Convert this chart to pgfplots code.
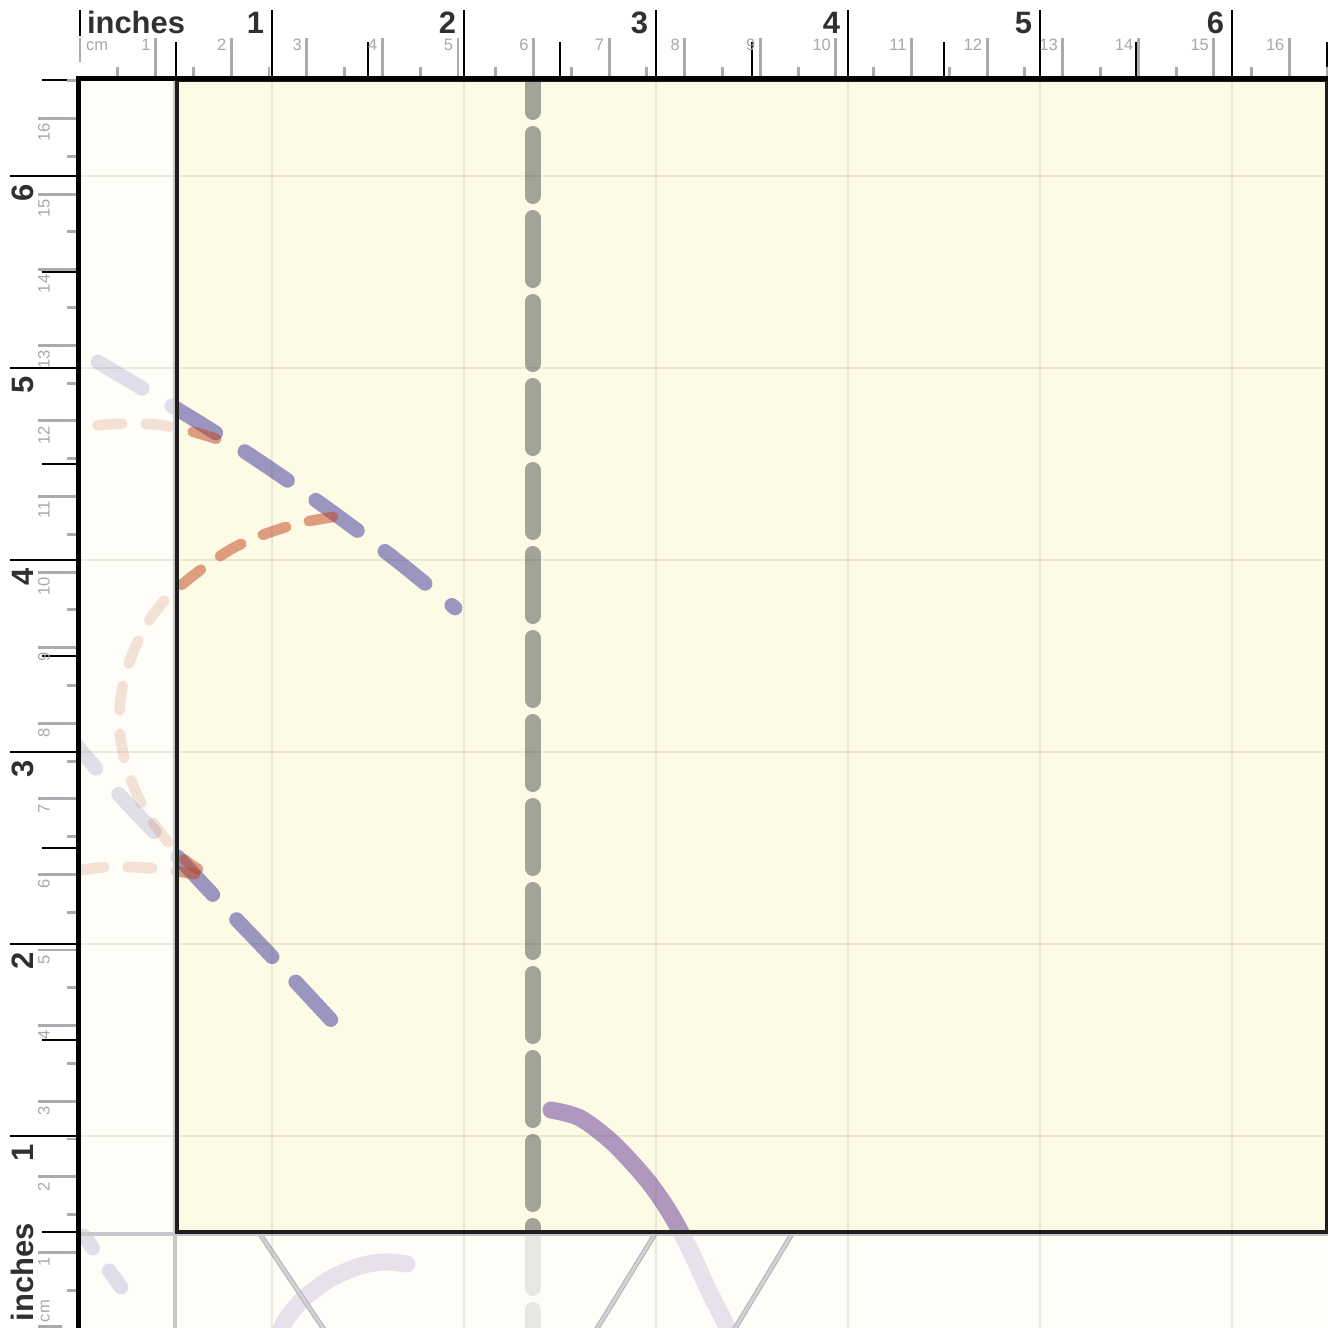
\documentclass[border=0pt]{standalone}
\usepackage{pgfplots}
\pgfplotsset{compat=1.18}
\usepackage{fontspec}
\setmainfont{Liberation Sans}
\definecolor{purpD}{RGB}{57,52,154}
\definecolor{oranD}{RGB}{193,66,26}
\definecolor{grayD}{RGB}{73,80,80}
\definecolor{purpS}{RGB}{99,54,150}
\definecolor{cream}{RGB}{254,253,248}
\definecolor{yel}{RGB}{253,250,230}
\definecolor{spineC}{RGB}{30,30,30}
\definecolor{fspine}{RGB}{200,200,203}
\definecolor{thinE}{RGB}{178,178,182}
\definecolor{thinI}{RGB}{210,210,212}
\definecolor{tickG}{RGB}{170,170,176}
\definecolor{labC}{RGB}{48,48,48}
\definecolor{cmC}{RGB}{168,168,168}
\definecolor{gridC}{RGB}{90,85,40}
\tikzset{
  lab/.style={inner sep=0pt, outer sep=0pt, font=\bfseries\fontsize{11.6}{12}\selectfont, text=labC},
  cml/.style={inner sep=0pt, outer sep=0pt, font=\fontsize{6.2}{7}\selectfont, text=cmC},
  pdash/.style={draw=purpD, line width=5.5pt, line cap=round, dash pattern=on 19.3pt off 12.95pt},
  odash/.style={draw=oranD, line width=4pt, line cap=round, dash pattern=on 9.2pt off 8.8pt},
  gdash/.style={draw=grayD, line width=6pt, line cap=round, dash pattern=on 23.25pt off 8.25pt, dash phase=12.375pt},
  psol/.style={draw=purpS, line width=6.4pt, line cap=round},
}
\pgfplotsset{
  pxaxis/.style={scale only axis, y dir=reverse, axis on top,
    axis line style={draw=none}, major tick length=0pt, tick style={draw=none},
    xticklabels={}, yticklabels={}, tick label style={text opacity=0},
    grid=major, grid style={draw=gridC, draw opacity=0.11, line width=0.7pt},
    xtick={272,464,656,848,1040,1232}, ytick={176,368,560,752,944,1136}},
}
\begin{document}
\begin{tikzpicture}
% ---------- faded outer region ----------
\begin{axis}[pxaxis, at={(30pt,0pt)}, anchor=south west, width=468pt, height=468pt,
  xmin=80, xmax=1328, ymin=80, ymax=1328,
  axis background/.style={fill=cream}, clip=true]
\addplot[pdash, draw opacity=0.15, smooth] coordinates {(98,362) (150,393) (200,423) (250,455) (300,489) (350,525) (400,563) (455,608)};
\addplot[pdash, draw opacity=0.15, smooth, dash phase=5.4pt] coordinates {(72,740) (113,788) (160,838) (217,899) (278,963) (333,1022)};
\addplot[pdash, draw opacity=0.15, dash pattern=on 5.6pt off 10.5pt on 19.5pt off 12.75pt] coordinates {(84,1236) (121,1287)};
\addplot[gdash, draw opacity=0.12] coordinates {(532.5,83) (532.5,1345)};
\addplot[psol, draw opacity=0.14, smooth] coordinates {(551,1110) (580,1118) (613,1143) (647,1180) (670,1213) (690,1250) (707,1287) (725,1323) (731,1340)};
\addplot[psol, draw opacity=0.14, smooth] coordinates {(407,1264) (385,1262) (360,1266) (330,1279) (303,1299) (285,1321) (278,1340)};
\addplot[odash, draw opacity=0.15, smooth, dash phase=7.5pt] coordinates {(70,430) (100,425) (130,423.5) (160,425) (190,431) (217,439)};
\addplot[odash, draw opacity=0.15, smooth] coordinates {(333,517) (300,523) (265,534) (235,547) (210,563) (185,582) (165,600) (148,622) (135,648) (125,675) (120,705) (120,735) (126,765) (136,792) (150,818) (168,842) (185,860) (198,869)};
\addplot[odash, draw opacity=0.15, smooth, dash phase=14.25pt] coordinates {(70,872) (100,867.5) (130,867) (160,869) (195,874)};
% thin faded lines below the axes
\addplot[draw=thinE, line width=0.375pt, double=thinI, double distance=1.1pt] coordinates {(260,1234) (331,1340)};
\addplot[draw=thinE, line width=0.375pt, double=thinI, double distance=1.1pt] coordinates {(655,1234) (590,1340)};
\addplot[draw=thinE, line width=0.375pt, double=thinI, double distance=1.1pt] coordinates {(792,1234) (728,1340)};
% faded spines
\addplot[draw=fspine, line width=1.5pt] coordinates {(175,80) (175,1328)};
\addplot[draw=fspine, line width=1.5pt] coordinates {(80,1234) (1328,1234)};
\end{axis}
% ---------- inner axes ----------
\begin{axis}[pxaxis, at={(66.375pt,36pt)}, anchor=south west, width=431.25pt, height=432pt,
  xmin=177, xmax=1327, ymin=80, ymax=1232,
  axis background/.style={fill=yel}, clip=true,
  axis line style={draw=spineC, line width=1.3pt}]
\addplot[pdash, draw opacity=0.5, smooth] coordinates {(98,362) (150,393) (200,423) (250,455) (300,489) (350,525) (400,563) (455,608)};
\addplot[pdash, draw opacity=0.5, smooth, dash phase=5.4pt] coordinates {(72,740) (113,788) (160,838) (217,899) (278,963) (333,1022)};
\addplot[gdash, draw opacity=0.5] coordinates {(532.5,83) (532.5,1345)};
\addplot[psol, draw opacity=0.5, smooth] coordinates {(551,1110) (580,1118) (613,1143) (647,1180) (670,1213) (690,1250) (707,1287) (725,1323) (731,1340)};
\addplot[odash, draw opacity=0.5, smooth, dash phase=7.5pt] coordinates {(70,430) (100,425) (130,423.5) (160,425) (190,431) (217,439)};
\addplot[odash, draw opacity=0.5, smooth] coordinates {(333,517) (300,523) (265,534) (235,547) (210,563) (185,582) (165,600) (148,622) (135,648) (125,675) (120,705) (120,735) (126,765) (136,792) (150,818) (168,842) (185,860) (198,869)};
\addplot[odash, draw opacity=0.5, smooth, dash phase=14.25pt] coordinates {(70,872) (100,867.5) (130,867) (160,869) (195,874)};
\end{axis}
% ---------- rulers ----------
\begin{axis}[at={(0pt,0pt)}, anchor=south west, scale only axis, width=498pt, height=498pt,
  xmin=0, xmax=1328, ymin=0, ymax=1328, y dir=reverse, hide axis, clip=false,
  unbounded coords=jump]
% black inch ticks (top)
\addplot[draw=black, line width=0.9pt] coordinates {(80,10) (80,36) (80,nan) (272,10) (272,78) (272,nan) (464,10) (464,78) (464,nan) (656,10) (656,78) (656,nan) (848,10) (848,78) (848,nan) (1040,10) (1040,78) (1040,nan) (1232,10) (1232,78)};
\addplot[draw=black, line width=0.9pt] coordinates {(176,42) (176,78) (176,nan) (368,42) (368,78) (368,nan) (560,42) (560,78) (560,nan) (752,42) (752,78) (752,nan) (944,42) (944,78) (944,nan) (1136,42) (1136,78) (1136,nan) (1327.5,42) (1327.5,78)};
% black inch ticks (left)
\addplot[draw=black, line width=0.9pt] coordinates {(10,1136) (78,1136) (nan,1136) (10,944) (78,944) (nan,944) (10,752) (78,752) (nan,752) (10,560) (78,560) (nan,560) (10,368) (78,368) (nan,368) (10,176) (78,176)};
\addplot[draw=black, line width=0.9pt] coordinates {(42,1232) (78,1232) (nan,1232) (42,1040) (78,1040) (nan,1040) (42,848) (78,848) (nan,848) (42,656) (78,656) (nan,656) (42,464) (78,464) (nan,464) (42,272) (78,272) (nan,272) (42,80) (78,80)};
% gray cm ticks (top)
\addplot[draw=tickG, line width=1.1pt] coordinates {(80,38) (80,62) (80,nan) (155.6,38) (155.6,77) (155.6,nan) (231.2,38) (231.2,77) (231.2,nan) (306.8,38) (306.8,77) (306.8,nan) (382.4,38) (382.4,77) (382.4,nan) (458.0,38) (458.0,77) (458.0,nan) (533.5,38) (533.5,77) (533.5,nan) (609.1,38) (609.1,77) (609.1,nan) (684.7,38) (684.7,77) (684.7,nan) (760.3,38) (760.3,77) (760.3,nan) (835.9,38) (835.9,77) (835.9,nan) (911.5,38) (911.5,77) (911.5,nan) (987.1,38) (987.1,77) (987.1,nan) (1062.7,38) (1062.7,77) (1062.7,nan) (1138.3,38) (1138.3,77) (1138.3,nan) (1213.9,38) (1213.9,77) (1213.9,nan) (1289.4,38) (1289.4,77)};
\addplot[draw=tickG, line width=1.1pt] coordinates {(117.8,67) (117.8,77) (117.8,nan) (193.4,67) (193.4,77) (193.4,nan) (269.0,67) (269.0,77) (269.0,nan) (344.6,67) (344.6,77) (344.6,nan) (420.2,67) (420.2,77) (420.2,nan) (495.8,67) (495.8,77) (495.8,nan) (571.3,67) (571.3,77) (571.3,nan) (646.9,67) (646.9,77) (646.9,nan) (722.5,67) (722.5,77) (722.5,nan) (798.1,67) (798.1,77) (798.1,nan) (873.7,67) (873.7,77) (873.7,nan) (949.3,67) (949.3,77) (949.3,nan) (1024.9,67) (1024.9,77) (1024.9,nan) (1100.5,67) (1100.5,77) (1100.5,nan) (1176.1,67) (1176.1,77) (1176.1,nan) (1251.7,67) (1251.7,77) (1251.7,nan) (1327.2,67) (1327.2,77)};
% gray cm ticks (left)
\addplot[draw=tickG, line width=1.1pt] coordinates {(38,1326.5) (62,1326.5) (nan,1326.5) (38,1252.4) (77,1252.4) (nan,1252.4) (38,1176.8) (77,1176.8) (nan,1176.8) (38,1101.2) (77,1101.2) (nan,1101.2) (38,1025.6) (77,1025.6) (nan,1025.6) (38,950.0) (77,950.0) (nan,950.0) (38,874.5) (77,874.5) (nan,874.5) (38,798.9) (77,798.9) (nan,798.9) (38,723.3) (77,723.3) (nan,723.3) (38,647.7) (77,647.7) (nan,647.7) (38,572.1) (77,572.1) (nan,572.1) (38,496.5) (77,496.5) (nan,496.5) (38,420.9) (77,420.9) (nan,420.9) (38,345.3) (77,345.3) (nan,345.3) (38,269.7) (77,269.7) (nan,269.7) (38,194.1) (77,194.1) (nan,194.1) (38,118.6) (77,118.6)};
\addplot[draw=tickG, line width=1.1pt] coordinates {(67,1290.2) (77,1290.2) (nan,1290.2) (67,1214.6) (77,1214.6) (nan,1214.6) (67,1139.0) (77,1139.0) (nan,1139.0) (67,1063.4) (77,1063.4) (nan,1063.4) (67,987.8) (77,987.8) (nan,987.8) (67,912.2) (77,912.2) (nan,912.2) (67,836.7) (77,836.7) (nan,836.7) (67,761.1) (77,761.1) (nan,761.1) (67,685.5) (77,685.5) (nan,685.5) (67,609.9) (77,609.9) (nan,609.9) (67,534.3) (77,534.3) (nan,534.3) (67,458.7) (77,458.7) (nan,458.7) (67,383.1) (77,383.1) (nan,383.1) (67,307.5) (77,307.5) (nan,307.5) (67,231.9) (77,231.9) (nan,231.9) (67,156.3) (77,156.3) (nan,156.3) (67,80.8) (77,80.8)};
% ruler base lines
\addplot[draw=black, line width=1.875pt] coordinates {(76,78.5) (1328,78.5)};
\addplot[draw=black, line width=1.875pt] coordinates {(78.5,76) (78.5,1328)};
% top labels
\node[lab, anchor=base west] at (axis cs:87,33) {inches};
\node[lab, anchor=base east] at (axis cs:264,33) {1};
\node[lab, anchor=base east] at (axis cs:456,33) {2};
\node[lab, anchor=base east] at (axis cs:648,33) {3};
\node[lab, anchor=base east] at (axis cs:840,33) {4};
\node[lab, anchor=base east] at (axis cs:1032,33) {5};
\node[lab, anchor=base east] at (axis cs:1224,33) {6};
\node[cml, anchor=base west] at (axis cs:86,50) {cm};
\node[cml, anchor=base east] at (axis cs:150.6,50) {1};
\node[cml, anchor=base east] at (axis cs:226.2,50) {2};
\node[cml, anchor=base east] at (axis cs:301.8,50) {3};
\node[cml, anchor=base east] at (axis cs:377.4,50) {4};
\node[cml, anchor=base east] at (axis cs:453.0,50) {5};
\node[cml, anchor=base east] at (axis cs:528.5,50) {6};
\node[cml, anchor=base east] at (axis cs:604.1,50) {7};
\node[cml, anchor=base east] at (axis cs:679.7,50) {8};
\node[cml, anchor=base east] at (axis cs:755.3,50) {9};
\node[cml, anchor=base east] at (axis cs:830.9,50) {10};
\node[cml, anchor=base east] at (axis cs:906.5,50) {11};
\node[cml, anchor=base east] at (axis cs:982.1,50) {12};
\node[cml, anchor=base east] at (axis cs:1057.7,50) {13};
\node[cml, anchor=base east] at (axis cs:1133.3,50) {14};
\node[cml, anchor=base east] at (axis cs:1208.9,50) {15};
\node[cml, anchor=base east] at (axis cs:1284.4,50) {16};
% left labels
\node[lab, anchor=base west, rotate=90] at (axis cs:33,1321) {inches};
\node[lab, anchor=base east, rotate=90] at (axis cs:33,1144) {1};
\node[lab, anchor=base east, rotate=90] at (axis cs:33,952) {2};
\node[lab, anchor=base east, rotate=90] at (axis cs:33,760) {3};
\node[lab, anchor=base east, rotate=90] at (axis cs:33,568) {4};
\node[lab, anchor=base east, rotate=90] at (axis cs:33,376) {5};
\node[lab, anchor=base east, rotate=90] at (axis cs:33,184) {6};
\node[cml, anchor=base west, rotate=90] at (axis cs:49.5,1322) {cm};
\node[cml, anchor=base east, rotate=90] at (axis cs:49.5,1257.4) {1};
\node[cml, anchor=base east, rotate=90] at (axis cs:49.5,1181.8) {2};
\node[cml, anchor=base east, rotate=90] at (axis cs:49.5,1106.2) {3};
\node[cml, anchor=base east, rotate=90] at (axis cs:49.5,1030.6) {4};
\node[cml, anchor=base east, rotate=90] at (axis cs:49.5,955.0) {5};
\node[cml, anchor=base east, rotate=90] at (axis cs:49.5,879.5) {6};
\node[cml, anchor=base east, rotate=90] at (axis cs:49.5,803.9) {7};
\node[cml, anchor=base east, rotate=90] at (axis cs:49.5,728.3) {8};
\node[cml, anchor=base east, rotate=90] at (axis cs:49.5,652.7) {9};
\node[cml, anchor=base east, rotate=90] at (axis cs:49.5,577.1) {10};
\node[cml, anchor=base east, rotate=90] at (axis cs:49.5,501.5) {11};
\node[cml, anchor=base east, rotate=90] at (axis cs:49.5,425.9) {12};
\node[cml, anchor=base east, rotate=90] at (axis cs:49.5,350.3) {13};
\node[cml, anchor=base east, rotate=90] at (axis cs:49.5,274.7) {14};
\node[cml, anchor=base east, rotate=90] at (axis cs:49.5,199.1) {15};
\node[cml, anchor=base east, rotate=90] at (axis cs:49.5,123.6) {16};
\end{axis}
\pgfresetboundingbox
\path (0pt,0pt) rectangle (498pt,498pt);
\end{tikzpicture}
\end{document}
